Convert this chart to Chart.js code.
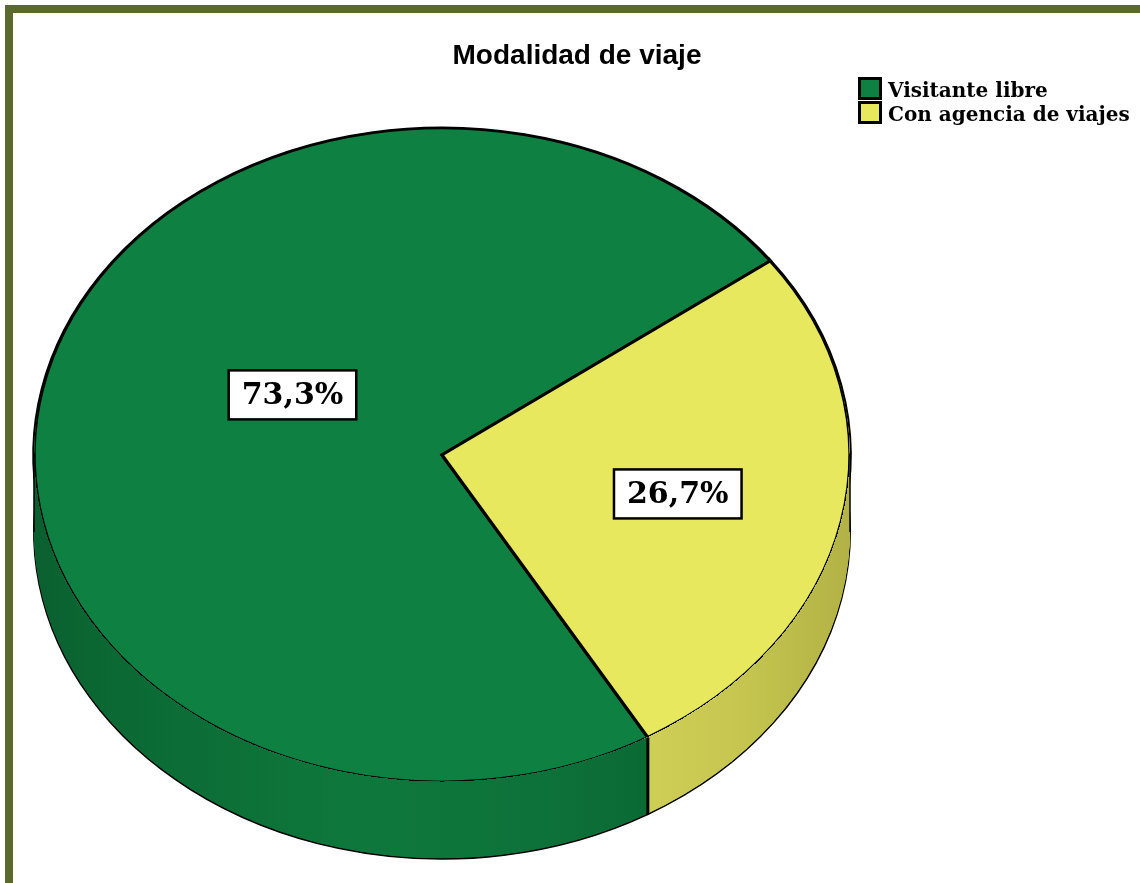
<!DOCTYPE html>
<html><head><meta charset="utf-8">
<script src="https://cdn.jsdelivr.net/npm/chart.js@4.4.1/dist/chart.umd.min.js"></script>
<style>
html,body{margin:0;padding:0;background:#fff;overflow:hidden;}
#wrap{position:relative;width:1140px;height:883px;overflow:hidden;}
#frame{position:absolute;left:5px;top:5px;width:1170px;height:920px;border:8px solid #5a6a2c;box-sizing:border-box;}
canvas{position:absolute;left:0;top:0;}
</style></head><body>
<div id="wrap"><div id="frame"></div><canvas id="c" width="1140" height="883"></canvas></div>
<script>
// ---- data ----
const chartTitle = 'Modalidad de viaje';
const categories = ['Visitante libre', 'Con agencia de viajes'];
const percentages = [73.3, 26.7];

// ---- styles ----
const topColors = ['#0e8142', '#e8e85e'];
const sideStops = [
  [[0, '#0a602f'], [0.1, '#0b6933'], [0.4, '#0e783c'], [0.62, '#0d7239'], [0.75, '#0b6a34'], [1, '#0b6a34']],
  [[0, '#d0d058'], [0.74, '#d0d058'], [0.86, '#c6c650'], [1, '#b2b246']]
];
const view3d = { cx: 442, cy: 455, rx: 408, ry: 327, depth: 77 };
const labelPlace = [{ shift: 15, r: 0.41 }, { shift: 0, r: 0.59 }];

function xf(arc) { return { sx: view3d.rx / arc.outerRadius, sy: view3d.ry / arc.outerRadius }; }
function applyXf(ctx, arc, dy) {
  const t = xf(arc);
  ctx.translate(view3d.cx, view3d.cy + dy);
  ctx.scale(t.sx, t.sy);
  ctx.translate(-arc.x, -arc.y);
}
function fmt(v) { return v.toFixed(1).replace('.', ',') + '%'; }

const pie3d = {
  id: 'pie3d',
  beforeDatasetDraw(chart, args) {
    const arc = args.meta.data[0];
    chart.ctx.save();
    applyXf(chart.ctx, arc, 0);
  },
  afterDatasetDraw(chart, args) {
    const ctx = chart.ctx;
    ctx.restore();
    const arcs = args.meta.data;
    const a0 = arcs[0];
    const t = xf(a0);
    const toLocalX = X => (X - view3d.cx) / t.sx + a0.x;
    ctx.save();
    ctx.beginPath();
    ctx.rect(0, 0, chart.width, chart.height);
    ctx.ellipse(view3d.cx, view3d.cy, view3d.rx, view3d.ry, 0, 0, Math.PI * 2);
    ctx.clip('evenodd');
    const grads = sideStops.map(stops => {
      const g = ctx.createLinearGradient(toLocalX(view3d.cx - view3d.rx), 0, toLocalX(view3d.cx + view3d.rx), 0);
      stops.forEach(([p, c]) => g.addColorStop(p, c));
      return g;
    });
    for (let k = view3d.depth; k >= 1; k--) {
      ctx.save();
      applyXf(ctx, a0, k);
      arcs.forEach((arc, i) => {
        const orig = arc.options;
        arc.options = Object.assign({}, orig, {
          backgroundColor: grads[i], borderColor: '#000',
          borderWidth: k === view3d.depth ? 1.8 : 0
        });
        arc.draw(ctx);
        arc.options = orig;
      });
      ctx.restore();
    }
    ctx.restore();
    // edges of the side wall
    ctx.save();
    ctx.strokeStyle = '#000';
    arcs.forEach(arc => {
      const s = Math.sin(arc.startAngle), c = Math.cos(arc.startAngle);
      if (s > 0) {
        const X = view3d.cx + view3d.rx * c, Y = view3d.cy + view3d.ry * s;
        ctx.lineWidth = 3;
        ctx.beginPath(); ctx.moveTo(X, Y); ctx.lineTo(X, Y + view3d.depth); ctx.stroke();
      }
    });
    ctx.lineWidth = 1.5;
    [-1, 1].forEach(d => {
      const X = view3d.cx + d * view3d.rx;
      ctx.beginPath(); ctx.moveTo(X, view3d.cy); ctx.lineTo(X, view3d.cy + view3d.depth); ctx.stroke();
    });
    ctx.restore();
  },
  afterDatasetsDraw(chart) {
    const ctx = chart.ctx;
    const arcs = chart.getDatasetMeta(0).data;
    ctx.save();
    ctx.font = 'bold 30px "DejaVu Serif"';
    ctx.textAlign = 'center';
    ctx.textBaseline = 'middle';
    arcs.forEach((arc, i) => {
      const mid = (arc.startAngle + arc.endAngle) / 2 + labelPlace[i].shift * Math.PI / 180;
      const X = view3d.cx + view3d.rx * labelPlace[i].r * Math.cos(mid);
      const Y = view3d.cy + view3d.ry * labelPlace[i].r * Math.sin(mid);
      const txt = fmt(chart.data.datasets[0].data[i]);
      const w = ctx.measureText(txt).width;
      const bw = w + 26, bh = 49;
      ctx.fillStyle = '#fff';
      ctx.fillRect(X - bw / 2, Y - bh / 2, bw, bh);
      ctx.lineWidth = 2.5;
      ctx.strokeStyle = '#000';
      ctx.strokeRect(X - bw / 2, Y - bh / 2, bw, bh);
      ctx.fillStyle = '#000';
      ctx.fillText(txt, X, Y + 1);
    });
    ctx.restore();
  },
  afterDraw(chart) {
    const ctx = chart.ctx;
    ctx.save();
    ctx.font = 'bold 20px "DejaVu Serif"';
    ctx.textBaseline = 'alphabetic';
    ctx.textAlign = 'left';
    chart.data.labels.forEach((lab, i) => {
      const y = 77 + i * 24;
      ctx.fillStyle = '#000';
      ctx.fillRect(858, y, 24, 23);
      ctx.fillStyle = topColors[i];
      ctx.fillRect(861, y + 3, 18, 17);
      ctx.fillStyle = '#000';
      ctx.fillText(lab, 888, y + 20);
    });
    ctx.restore();
  }
};

new Chart(document.getElementById('c'), {
  type: 'pie',
  data: {
    labels: categories,
    datasets: [{
      data: percentages,
      backgroundColor: topColors,
      borderColor: '#000',
      borderWidth: 3.4,
      borderJoinStyle: 'miter',
      clip: false
    }]
  },
  options: {
    responsive: false,
    animation: false,
    events: [],
    rotation: 149.7,
    layout: { padding: { left: 14, right: 0, top: 0, bottom: 0 } },
    plugins: {
      legend: { display: false },
      tooltip: { enabled: false },
      title: {
        display: true, text: chartTitle, color: '#000',
        font: { family: '"Liberation Sans", Arial, sans-serif', size: 28, weight: 'bold' },
        padding: { top: 39, bottom: 10 }
      }
    }
  },
  plugins: [pie3d]
});
</script>
</body></html>
